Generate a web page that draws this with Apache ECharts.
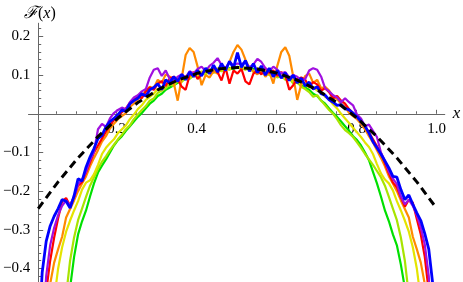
<!DOCTYPE html>
<html><head><meta charset="utf-8">
<script src="https://cdn.jsdelivr.net/npm/echarts@6/dist/echarts.min.js"></script>
<style>html,body{margin:0;padding:0;background:#fff}#c{width:463px;height:282px}</style>
</head><body><div id="c"></div>
<script>
// x sample positions shared by all simulated curves
const xs = [0,0.01,0.02,0.03,0.04,0.05,0.06,0.07,0.08,0.09,
 0.1,0.11,0.12,0.13,0.14,0.15,0.16,0.17,0.18,0.19,
 0.2,0.21,0.22,0.23,0.24,0.25,0.26,0.27,0.28,0.29,
 0.3,0.31,0.32,0.33,0.34,0.35,0.36,0.37,0.38,0.39,
 0.4,0.41,0.42,0.43,0.44,0.45,0.46,0.47,0.48,0.49,
 0.5,0.51,0.52,0.53,0.54,0.55,0.56,0.57,0.58,0.59,
 0.6,0.61,0.62,0.63,0.64,0.65,0.66,0.67,0.68,0.69,
 0.7,0.71,0.72,0.73,0.74,0.75,0.76,0.77,0.78,0.79,
 0.8,0.81,0.82,0.83,0.84,0.85,0.86,0.87,0.88,0.89,
 0.9,0.91,0.92,0.93,0.94,0.95,0.96,0.97,0.98,0.99,
 1];

const greenY = [null,null,null,null,null,null,null,-0.6,-0.45,-0.37,
 -0.312,-0.278,-0.25,-0.214,-0.18,-0.152,-0.134,-0.118,-0.1,-0.082,
 -0.068,-0.058,-0.044,-0.032,-0.02,-0.008,0.002,0.014,0.026,0.034,
 0.046,0.052,0.062,0.068,0.074,0.08,0.086,0.09,0.094,0.098,
 0.1,0.104,0.108,0.106,0.112,0.11,0.116,0.114,0.118,0.116,
 0.122,0.116,0.118,0.114,0.116,0.11,0.112,0.106,0.108,0.104,
 0.1,0.098,0.094,0.09,0.086,0.08,0.074,0.068,0.062,0.052,
 0.046,0.034,0.026,0.014,0.002,-0.008,-0.02,-0.032,-0.044,-0.058,
 -0.068,-0.082,-0.1,-0.12,-0.15,-0.18,-0.214,-0.25,-0.278,-0.312,
 -0.34,-0.39,-0.45,-0.6,null,null,null,null,null,null,
 null];

const yellowGreenY = [null,null,null,null,null,null,-0.6,-0.47,-0.38,-0.32,
 -0.275,-0.245,-0.215,-0.186,-0.164,-0.142,-0.124,-0.11,-0.094,-0.08,
 -0.066,-0.054,-0.04,-0.03,-0.014,-0.002,0.01,0.02,0.034,0.04,
 0.054,0.06,0.066,0.076,0.072,0.086,0.082,0.094,0.09,0.1,
 0.096,0.106,0.102,0.11,0.106,0.114,0.11,0.118,0.114,0.122,
 0.12,0.118,0.114,0.12,0.108,0.112,0.106,0.11,0.1,0.104,
 0.094,0.098,0.088,0.092,0.078,0.082,0.07,0.064,0.056,0.044,
 0.048,0.034,0.022,0.01,0.0,-0.014,-0.03,-0.042,-0.05,-0.06,
 -0.074,-0.088,-0.104,-0.118,-0.132,-0.148,-0.164,-0.186,-0.215,-0.245,
 -0.275,-0.32,-0.38,-0.47,-0.6,null,null,null,null,null,
 null];

const yellowY = [null,null,null,-0.6,-0.48,-0.4,-0.345,-0.305,-0.276,-0.25,
 -0.226,-0.196,-0.178,-0.172,-0.156,-0.132,-0.104,-0.088,-0.076,-0.066,
 -0.05,-0.04,-0.03,-0.014,-0.002,0.012,0.022,0.036,0.044,0.052,
 0.064,0.06,0.074,0.082,0.078,0.09,0.086,0.098,0.094,0.104,
 0.1,0.11,0.106,0.116,0.108,0.118,0.112,0.12,0.114,0.124,
 0.118,0.124,0.116,0.12,0.11,0.118,0.108,0.114,0.104,0.108,
 0.098,0.102,0.092,0.096,0.084,0.088,0.076,0.08,0.068,0.07,
 0.06,0.056,0.044,0.038,0.024,0.014,0.0,-0.012,-0.024,-0.036,
 -0.048,-0.06,-0.074,-0.086,-0.104,-0.13,-0.154,-0.17,-0.18,-0.198,
 -0.226,-0.25,-0.276,-0.305,-0.345,-0.4,-0.48,-0.6,null,null,
 null];

const orangeY = [null,null,-0.6,-0.44,-0.385,-0.35,-0.318,-0.268,-0.246,-0.224,
 -0.2,-0.18,-0.162,-0.136,-0.114,-0.094,-0.072,-0.058,-0.038,-0.026,
 -0.014,-0.006,0.002,0.018,0.026,0.038,0.044,0.06,0.07,0.066,
 0.088,0.08,0.102,0.096,0.08,0.034,0.092,0.152,0.17,0.16,
 0.122,0.074,0.1,0.094,0.11,0.104,0.122,0.114,0.134,0.16,
 0.178,0.166,0.14,0.118,0.11,0.102,0.114,0.096,0.108,0.078,
 0.124,0.16,0.172,0.15,0.096,0.036,0.076,0.098,0.104,0.08,
 0.088,0.066,0.07,0.06,0.044,0.038,0.026,0.018,0.002,-0.006,
 -0.014,-0.026,-0.04,-0.058,-0.074,-0.094,-0.114,-0.136,-0.162,-0.18,
 -0.2,-0.224,-0.246,-0.268,-0.318,-0.35,-0.385,-0.44,-0.6,null,
 null];

const redY = [null,-0.6,-0.46,-0.38,-0.32,-0.27,-0.226,-0.218,-0.238,-0.214,
 -0.186,-0.176,-0.152,-0.126,-0.1,-0.082,-0.064,-0.046,-0.03,-0.016,
 -0.006,0.004,0.014,0.028,0.036,0.046,0.04,0.058,0.068,0.062,
 0.078,0.084,0.072,0.092,0.096,0.088,0.07,0.062,0.1,0.108,
 0.09,0.102,0.114,0.104,0.12,0.108,0.086,0.12,0.078,0.112,
 0.104,0.116,0.084,0.076,0.104,0.112,0.102,0.118,0.106,0.112,
 0.098,0.108,0.1,0.062,0.074,0.09,0.094,0.088,0.07,0.082,
 0.076,0.06,0.066,0.056,0.04,0.046,0.034,0.026,0.012,0.002,
 -0.008,-0.018,-0.032,-0.048,-0.066,-0.084,-0.102,-0.128,-0.154,-0.178,
 -0.19,-0.216,-0.24,-0.222,-0.23,-0.272,-0.312,-0.37,-0.46,-0.6,
 null];

const purpleY = [null,-0.6,-0.42,-0.34,-0.295,-0.262,-0.238,-0.224,-0.236,-0.216,
 -0.182,-0.17,-0.15,-0.12,-0.098,-0.04,-0.026,-0.034,-0.012,0.002,
 0.01,0.016,0.012,0.03,0.042,0.048,0.058,0.064,0.094,0.114,
 0.118,0.098,0.112,0.09,0.086,0.096,0.102,0.094,0.11,0.104,
 0.116,0.122,0.11,0.124,0.132,0.144,0.126,0.118,0.134,0.126,
 0.13,0.128,0.134,0.12,0.128,0.142,0.134,0.118,0.11,0.122,
 0.114,0.104,0.108,0.094,0.1,0.096,0.086,0.09,0.112,0.118,
 0.114,0.096,0.066,0.058,0.048,0.042,0.03,0.04,0.03,0.022,
 -0.002,-0.012,-0.032,-0.028,-0.044,-0.06,-0.1,-0.122,-0.15,-0.168,
 -0.182,-0.214,-0.234,-0.222,-0.238,-0.262,-0.294,-0.338,-0.42,-0.6,
 null];

const blueY = [-0.6,-0.41,-0.33,-0.29,-0.265,-0.245,-0.222,-0.226,-0.244,-0.212,
 -0.168,-0.174,-0.138,-0.112,-0.09,-0.064,-0.056,-0.034,-0.02,-0.012,
 -0.002,0.01,0.006,0.026,0.034,0.04,0.052,0.046,0.062,0.068,
 0.078,0.062,0.088,0.08,0.096,0.084,0.102,0.088,0.108,0.096,
 0.112,0.098,0.118,0.104,0.126,0.108,0.13,0.112,0.136,0.118,
 0.158,0.12,0.138,0.11,0.13,0.106,0.124,0.1,0.118,0.096,
 0.112,0.092,0.106,0.086,0.1,0.08,0.092,0.072,0.082,0.064,
 0.07,0.052,0.048,0.036,0.03,0.022,0.024,0.014,0.01,0.002,
 -0.008,-0.02,-0.032,-0.05,-0.072,-0.088,-0.104,-0.122,-0.14,-0.162,
 -0.164,-0.196,-0.222,-0.21,-0.234,-0.256,-0.276,-0.31,-0.35,-0.44,
 -0.6];

// dashed reference curve
const dashX = [0,0.05,0.1,0.15,0.2,0.25,0.3,0.35,0.4,0.45,0.5,0.55,0.6,0.65,0.7,0.75,0.8,0.85,0.9,0.95,1];
const dashY = [-0.245,-0.176,-0.114,-0.059,-0.011,0.029,0.062,0.087,0.105,0.116,0.12,0.116,0.105,0.087,0.062,0.029,-0.011,-0.059,-0.114,-0.176,-0.245];

// tick positions and labels
const xMajorTicks = [0.2, 0.4, 0.6, 0.8, 1.0];
const xTickLabels = [0.2, 0.4, 0.6, 0.8, 1.0];
const xMinorTicks = [0.05, 0.1, 0.15, 0.25, 0.3, 0.35, 0.45, 0.5, 0.55, 0.65, 0.7, 0.75, 0.85, 0.9, 0.95];
const yMajorTicks = [-0.4, -0.3, -0.2, -0.1, 0.1, 0.2];
const yTickLabels = [-0.4, -0.3, -0.2, -0.1, 0.1, 0.2];
const yMinorTicks = [-0.42, -0.38, -0.36, -0.34, -0.32, -0.28, -0.26, -0.24, -0.22, -0.18, -0.16, -0.14, -0.12,
  -0.08, -0.06, -0.04, -0.02, 0.02, 0.04, 0.06, 0.08, 0.12, 0.14, 0.16, 0.18, 0.22];

const curveColors = ['#00e000','#a8e400','#e4e400','#ff8a00','#ff0000','#a010e0','#0000ff'];
const curveData = [greenY, yellowGreenY, yellowY, orangeY, redY, purpleY, blueY];

// axis ranges and pixel mapping of the plot
const X_MIN = -0.02, X_MAX = 1.02, Y_MIN = -0.435, Y_MAX = 0.234;
const X0 = 36.7, PX = 400, Y0 = 113.8, PY = 386.7;
const AX = '#666';

function fmt(v) {
  if (Math.abs(v) < 1e-9) return '';
  return (v < 0 ? '\u2212' : '') + Math.abs(v).toFixed(1);
}

const seriesList = curveData.map((ys, k) => ({
  type: 'line', xAxisIndex: 2, yAxisIndex: 1,
  data: xs.map((x, i) => [x, ys[i]]).filter(p => p[1] !== null),
  showSymbol: false,
  lineStyle: {color: curveColors[k], width: k === 6 ? 2.8 : 2.2}
}));
seriesList.push({
  type: 'line', xAxisIndex: 2, yAxisIndex: 1,
  data: dashX.map((x, i) => [x, dashY[i]]),
  showSymbol: false,
  lineStyle: {color: '#000', width: 3, type: [8, 5]}
});

const chart = echarts.init(document.getElementById('c'));
chart.setOption({
  animation: false,
  title: {
    text: '{f|\u2131}{n|(}{i|x}{n|)}', left: 19, top: 0,
    textStyle: {fontWeight: 'normal', color: '#000', rich: {
      f: {fontFamily: 'Liberation Serif', fontSize: 17, fontStyle: 'italic'},
      n: {fontFamily: 'Liberation Serif', fontSize: 16},
      i: {fontFamily: 'Liberation Serif', fontSize: 16, fontStyle: 'italic'}
    }}
  },
  grid: [
    {left: X0 + X_MIN * PX, width: (X_MAX - X_MIN) * PX, top: Y0 - Y_MAX * PY, height: Y_MAX * PY},
    {left: X0, width: X_MAX * PX, top: Y0 - Y_MAX * PY, height: (Y_MAX - Y_MIN) * PY}
  ],
  xAxis: [
    {gridIndex: 0, type: 'value', min: X_MIN, max: X_MAX, position: 'bottom',
     axisLine: {show: true, onZero: false, lineStyle: {color: AX}},
     axisTick: {show: true, inside: true, length: 4, customValues: xMajorTicks, lineStyle: {color: AX}},
     axisLabel: {customValues: xTickLabels, formatter: fmt, fontFamily: 'Liberation Serif', fontSize: 15, color: '#000'},
     splitLine: {show: false},
     name: 'x', nameLocation: 'end', nameGap: 8,
     nameTextStyle: {fontFamily: 'Liberation Serif', fontStyle: 'italic', fontSize: 17, color: '#000'}},
    {gridIndex: 0, type: 'value', min: X_MIN, max: X_MAX, position: 'bottom',
     axisLine: {show: true, onZero: false, lineStyle: {color: AX}},
     axisTick: {show: true, inside: true, length: 2.5, customValues: xMinorTicks, lineStyle: {color: AX}},
     axisLabel: {show: false}, splitLine: {show: false}},
    {gridIndex: 1, type: 'value', min: 0, max: X_MAX, show: false, splitLine: {show: false}}
  ],
  yAxis: [
    {gridIndex: 0, type: 'value', min: 0, max: Y_MAX, show: false, splitLine: {show: false}},
    {gridIndex: 1, type: 'value', min: Y_MIN, max: Y_MAX, position: 'left',
     axisLine: {show: true, onZero: false, lineStyle: {color: AX}},
     axisTick: {show: true, inside: true, length: 5, customValues: yMajorTicks, lineStyle: {color: AX}},
     axisLabel: {customValues: yTickLabels, formatter: fmt, fontFamily: 'Liberation Serif', fontSize: 15, color: '#000'},
     splitLine: {show: false}},
    {gridIndex: 1, type: 'value', min: Y_MIN, max: Y_MAX, position: 'left',
     axisLine: {show: true, onZero: false, lineStyle: {color: AX}},
     axisTick: {show: true, inside: true, length: 3, customValues: yMinorTicks, lineStyle: {color: AX}},
     axisLabel: {show: false}, splitLine: {show: false}}
  ],
  series: seriesList
});
</script></body></html>
